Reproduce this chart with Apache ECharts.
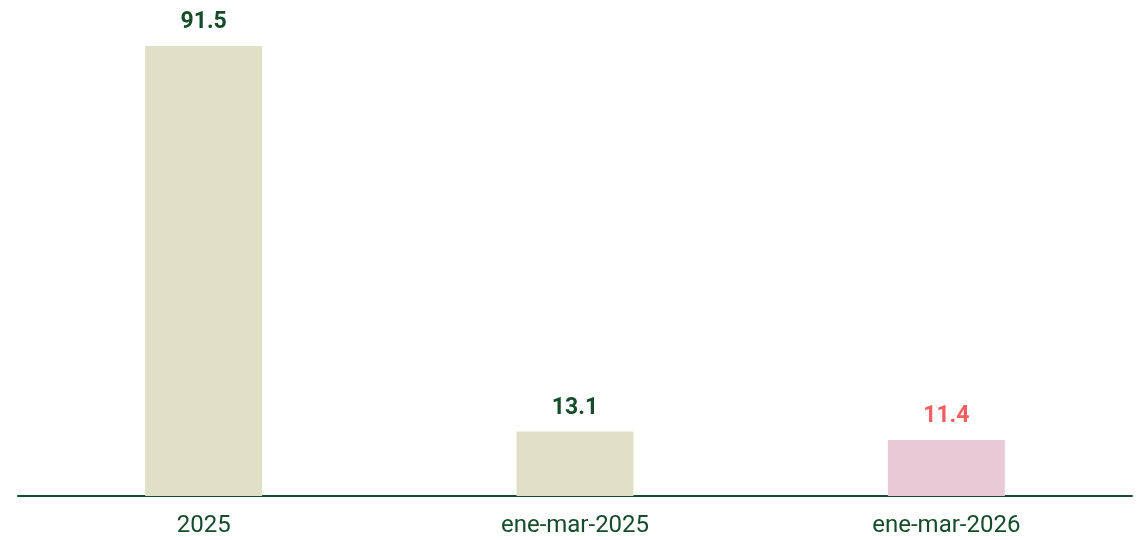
<!DOCTYPE html>
<html>
<head>
<meta charset="utf-8">
<script src="https://cdn.jsdelivr.net/npm/echarts@6/dist/echarts.min.js"></script>
<style>
  html, body { margin: 0; padding: 0; background: #fff; }
  #chart { width: 1145px; height: 540px; }
</style>
</head>
<body>
<div id="chart"></div>
<script>
// datos
const categories = ["2025", "ene-mar-2025", "ene-mar-2026"];
const values = [91.5, 13.1, 11.4];
const barColors = ["#e0e0c9", "#e0e0c9", "#e8c9d5"];
const labelColors = ["#154d2a", "#154d2a", "#f25f5f"];

const chart = echarts.init(document.getElementById("chart"));

const option = {
  animation: false,
  grid: {
    top: 46,
    left: 18,
    right: 13,
    bottom: 44,
  },
  xAxis: {
    type: "category",
    data: categories,
    axisTick: { show: false },
    axisLine: {
      show: true,
      lineStyle: { color: "#154d2a", width: 2 },
    },
    axisLabel: {
      color: "#154d2a",
      fontSize: 24,
      fontFamily: "Roboto",
      margin: 18,
    },
  },
  yAxis: {
    type: "value",
    min: 0,
    max: function (value) {
      return value.max;
    },
    show: false,
    splitLine: { show: false },
  },
  series: [
    {
      type: "bar",
      barWidth: "31.5%",
      data: values.map(function (v, i) {
        return {
          value: v,
          itemStyle: { color: barColors[i] },
          label: { color: labelColors[i] },
        };
      }),
      label: {
        show: true,
        position: "top",
        distance: 12,
        fontSize: 23,
        fontWeight: "bold",
        fontFamily: "Roboto",
        formatter: function (p) {
          return p.value.toFixed(1);
        },
      },
    },
  ],
};

chart.setOption(option);
</script>
</body>
</html>
